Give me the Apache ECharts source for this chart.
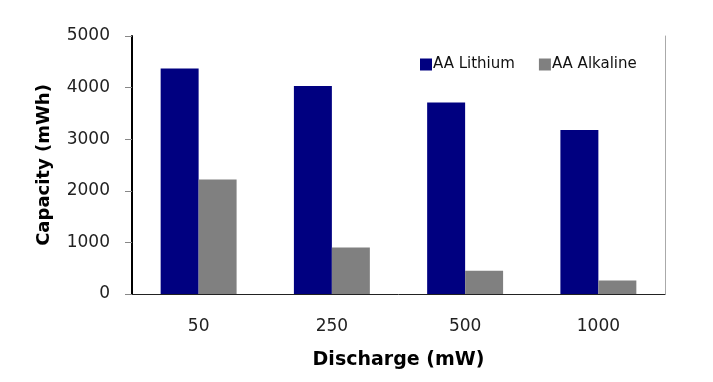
<!DOCTYPE html>
<html><head><meta charset="utf-8">
<script src="https://cdn.jsdelivr.net/npm/echarts@6/dist/echarts.min.js"></script>
<style>html,body{margin:0;padding:0;background:#fff}#c{width:713px;height:382px}</style>
</head><body><div id="c"></div>
<script>
const categories = ['50', '250', '500', '1000'];
const lithium = [4370, 4030, 3710, 3180];
const alkaline = [2220, 900, 450, 260];
const seriesNames = ['AA Lithium', 'AA Alkaline'];
const yTicks = { min: 0, max: 5000, interval: 1000 };

const chart = echarts.init(document.getElementById('c'), null, { renderer: 'canvas' });
const font = 'DejaVu Sans';
chart.setOption({
  animation: false,
  backgroundColor: '#fff',
  grid: { left: 132, right: 48, top: 36, bottom: 88, containLabel: false },
  legend: {
    data: seriesNames,
    left: 415, top: 52,
    itemWidth: 12, itemHeight: 12, itemGap: 24,
    icon: 'rect',
    itemStyle: { borderWidth: 0 },
    textStyle: { fontFamily: font, fontSize: 15, color: '#111', padding: [0, 0, 0, -4] }
  },
  xAxis: {
    type: 'category',
    data: categories,
    name: 'Discharge (mW)',
    nameLocation: 'middle',
    nameGap: 57,
    nameTextStyle: { fontFamily: font, fontSize: 19, fontWeight: 'bold', color: '#000' },
    axisLine: { lineStyle: { color: '#222', width: 1 } },
    axisTick: { length: 6, lineStyle: { color: '#666' } },
    axisLabel: { fontFamily: font, fontSize: 17, color: '#222', margin: 24 }
  },
  yAxis: [{
    type: 'value',
    min: yTicks.min, max: yTicks.max, interval: yTicks.interval,
    name: 'Capacity (mWh)',
    nameLocation: 'middle',
    nameGap: 79,
    nameTextStyle: { fontFamily: font, fontSize: 18, fontWeight: 'bold', color: '#000' },
    axisLine: { show: true, lineStyle: { color: '#000', width: 2 } },
    axisTick: { show: true, length: 7, lineStyle: { color: '#888' } },
    splitLine: { show: false },
    axisLabel: { fontFamily: font, fontSize: 17, color: '#222', margin: 22, formatter: v => String(v) }
  }, {
    type: 'value',
    position: 'right',
    min: yTicks.min, max: yTicks.max, interval: yTicks.interval,
    axisLine: { show: true, lineStyle: { color: '#aaa', width: 1 } },
    axisTick: { show: false },
    axisLabel: { show: false },
    splitLine: { show: false }
  }],
  series: [{
    name: seriesNames[0], type: 'bar', data: lithium,
    barGap: '0%', barCategoryGap: '43%',
    itemStyle: { color: '#000080' }
  }, {
    name: seriesNames[1], type: 'bar', data: alkaline,
    barGap: '0%', barCategoryGap: '43%',
    itemStyle: { color: '#808080' }
  }]
});
</script></body></html>
